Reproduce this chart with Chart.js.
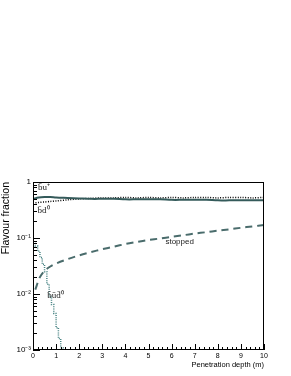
<!DOCTYPE html>
<html>
<head>
<meta charset="utf-8">
<script src="https://cdn.jsdelivr.net/npm/chart.js@4"></script>
<style>
  html, body { margin: 0; padding: 0; background: #fff; }
  #wrap { width: 291px; height: 376px; }
</style>
</head>
<body>
<div id="wrap"><canvas id="flavourChart" width="291" height="376"></canvas></div>
<script>
// penetration depth samples (m)
const depth = [0, 0.25, 0.5, 0.75, 1, 1.5, 2, 2.5, 3, 3.5, 4, 4.5, 5, 5.5, 6, 6.5, 7, 7.5, 8, 8.5, 9, 9.5, 10];
const buPlus = [0.50, 0.53, 0.54, 0.54, 0.53, 0.52, 0.51, 0.50, 0.50, 0.50, 0.49, 0.49, 0.49, 0.49, 0.48, 0.48, 0.48, 0.48, 0.47, 0.47, 0.47, 0.47, 0.47];
const bdZero = [0.42, 0.43, 0.44, 0.45, 0.46, 0.48, 0.50, 0.51, 0.52, 0.52, 0.53, 0.52, 0.53, 0.52, 0.53, 0.52, 0.53, 0.53, 0.52, 0.53, 0.53, 0.52, 0.53];

const stoppedDepth = [0.1, 0.3, 0.5, 0.75, 1, 1.5, 2, 2.5, 3, 3.5, 4, 4.5, 5, 5.5, 6, 6.5, 7, 7.5, 8, 8.5, 9, 9.5, 10];
const stopped = [0.012, 0.02, 0.026, 0.031, 0.035, 0.042, 0.049, 0.056, 0.063, 0.070, 0.078, 0.085, 0.092, 0.098, 0.105, 0.112, 0.120, 0.127, 0.135, 0.143, 0.152, 0.161, 0.170];

const baryonDepth = [0, 0.1, 0.2, 0.3, 0.4, 0.5, 0.6, 0.7, 0.8, 0.9, 1.0, 1.1, 1.2, 1.3, 1.4];
const baryon = [0.08, 0.072, 0.058, 0.045, 0.034, 0.025, 0.015, 0.009, 0.0065, 0.0045, 0.0025, 0.0016, 0.0011, 0.0009, 0.0009];

const yTickLabels = {1: '1', 0.1: '10\u207B\u00B9', 0.01: '10\u207B\u00B2', 0.001: '10\u207B\u00B3'};

function pairs(xs, ys) {
    return xs.map((x, i) => ({x: x, y: ys[i]}));
}

// curve labels, placed in data coordinates
const curveLabels = [
    {text: 'b\u0304u\u207A', x: 0.22, y: 0.80, align: 'left', font: '9px "Liberation Serif"'},
    {text: 'b\u0304d\u2070', x: 0.2, y: 0.31, align: 'left', font: '9px "Liberation Serif"'},
    {text: 'stopped', x: 6.35, y: 0.085, align: 'center', font: '8px "Liberation Sans"'},
    {text: 'b\u0304u\u0304d\u0304\u2070', x: 0.62, y: 0.0092, align: 'left', font: '9px "Liberation Serif"'}
];

// ROOT style frame with ticks pointing inwards
const frameTicks = {
    id: 'frameTicks',
    afterDatasetsDraw(chart) {
        const ctx = chart.ctx;
        const a = chart.chartArea;
        const xs = chart.scales.x;
        const ys = chart.scales.y;
        ctx.save();
        ctx.strokeStyle = '#000';
        ctx.lineWidth = 1;
        ctx.strokeRect(a.left + 0.5, a.top + 0.5, a.right - a.left - 1, a.bottom - a.top - 1);
        ctx.beginPath();
        for (let d = -3; d <= 0; d++) {
            for (let k = 1; k <= 9; k++) {
                const v = k * Math.pow(10, d);
                if (v > 1.0001) break;
                const py = Math.round(ys.getPixelForValue(v)) + 0.5;
                const len = k === 1 ? 7 : 4;
                ctx.moveTo(a.left, py);
                ctx.lineTo(a.left + len, py);
            }
        }
        for (let i = 0; i <= 50; i++) {
            const v = i * 0.2;
            const px = Math.round(xs.getPixelForValue(v)) + 0.5;
            const len = i % 5 === 0 ? 6 : 3;
            ctx.moveTo(px, a.bottom);
            ctx.lineTo(px, a.bottom - len);
        }
        ctx.stroke();

        ctx.fillStyle = '#222';
        ctx.textBaseline = 'middle';
        curveLabels.forEach(l => {
            ctx.font = l.font;
            ctx.textAlign = l.align;
            ctx.fillText(l.text, xs.getPixelForValue(l.x), ys.getPixelForValue(l.y));
        });
        ctx.restore();
    }
};

Chart.defaults.font.family = '"Liberation Sans", Arial, sans-serif';
Chart.defaults.color = '#000';

const ctx = document.getElementById('flavourChart').getContext('2d');
const chart = new Chart(ctx, {
    type: 'line',
    data: {
        datasets: [
            {
                label: 'bu+',
                data: pairs(depth, buPlus),
                borderColor: '#345a5a',
                borderWidth: 2,
                pointRadius: 0,
                tension: 0.3
            },
            {
                label: 'bd0',
                data: pairs(depth, bdZero),
                borderColor: '#000',
                borderWidth: 1.5,
                borderDash: [1, 1.5],
                pointRadius: 0,
                tension: 0.3
            },
            {
                label: 'stopped',
                data: pairs(stoppedDepth, stopped),
                borderColor: '#4a6c6c',
                borderWidth: 2,
                borderDash: [7, 5],
                pointRadius: 0,
                tension: 0.3
            },
            {
                label: 'bud0',
                data: pairs(baryonDepth, baryon),
                borderColor: '#4a8585',
                borderWidth: 1.5,
                borderDash: [1, 1.2],
                pointRadius: 0,
                stepped: true
            }
        ]
    },
    options: {
        responsive: false,
        animation: false,
        layout: {padding: {top: 182, right: 27, left: 0, bottom: 7}},
        plugins: {legend: {display: false}, tooltip: {enabled: false}},
        scales: {
            x: {
                type: 'linear',
                min: 0,
                max: 10,
                grid: {display: false, drawTicks: false},
                border: {display: false},
                ticks: {stepSize: 1, padding: 2, font: {size: 7}, maxRotation: 0},
                title: {display: true, text: 'Penetration depth (m)', align: 'end', font: {size: 7.5}, padding: {top: 0, bottom: 0}},
                afterFit(scale) { scale.height = 19; }
            },
            y: {
                type: 'logarithmic',
                min: 0.001,
                max: 1,
                grid: {display: false, drawTicks: false},
                border: {display: false},
                ticks: {
                    autoSkip: false,
                    padding: 2,
                    font: {size: 8},
                    callback: v => yTickLabels[v] || ''
                },
                title: {display: true, text: 'Flavour fraction', align: 'end', font: {size: 10.5}, padding: 0},
                afterFit(scale) { scale.width = 33; }
            }
        }
    },
    plugins: [frameTicks]
});
</script>
</body>
</html>
